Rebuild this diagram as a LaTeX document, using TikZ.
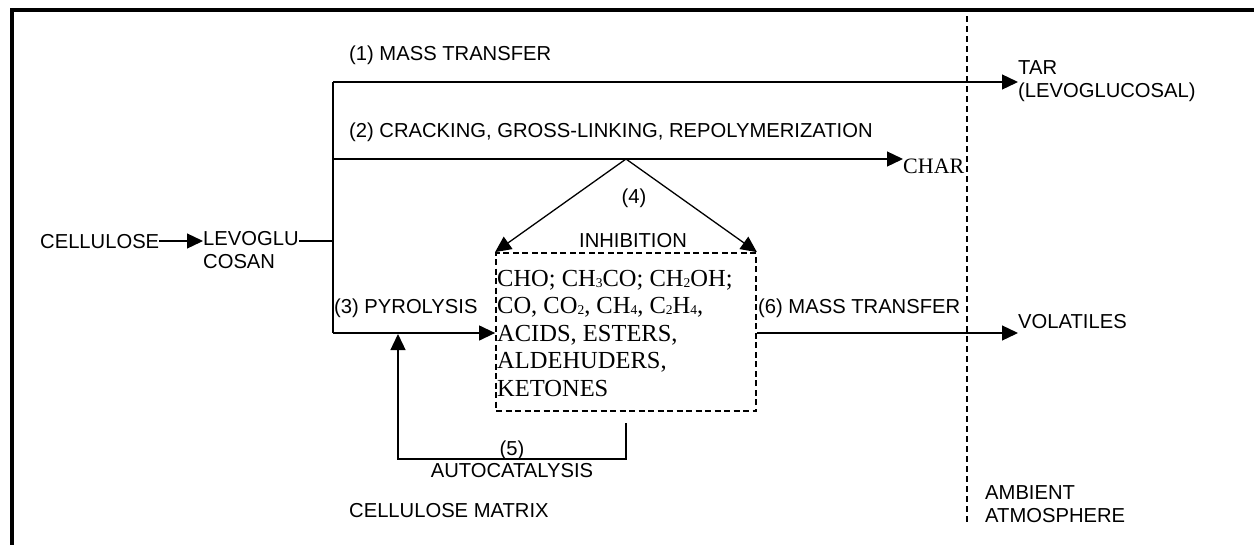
\documentclass[tikz,border=0pt]{standalone}
\usepackage{fontspec}
\setmainfont{Liberation Serif}
\setsansfont{Liberation Sans}
\usetikzlibrary{arrows.meta}
\newcommand{\sbs}[1]{\raisebox{-1pt}{\fontsize{13.5}{13.5}\selectfont #1}}
\begin{document}
\begin{tikzpicture}[x=1pt,y=-1pt,
  lbl/.style={font=\sffamily\fontsize{20.2}{23}\selectfont, inner sep=0pt, align=left},
  ser/.style={font=\rmfamily\fontsize{24.5}{27.5}\selectfont, inner sep=0pt},
  charf/.style={font=\rmfamily\fontsize{22}{24}\selectfont, inner sep=0pt},
  conn/.style={line width=1.3pt},
  arr/.style={conn, -{Triangle[length=16pt,width=15pt]}},
  frame/.style={line width=3.4pt},
  boundary/.style={line width=1.3pt, dash pattern=on 6pt off 4pt},
  dbox/.style={draw, line width=1.8pt, dash pattern=on 6pt off 3.5pt, minimum width=260pt, minimum height=158pt, inner sep=0pt}]
\useasboundingbox (0,0) rectangle (1254,544);
\clip (0,0) rectangle (1254,544);
% frame
\draw[frame] (12,600) -- (12,10) -- (1300,10);
% boundary between matrix and atmosphere
\draw[boundary] (967,16) -- (967,522);
% nodes
\node[lbl, anchor=base west] (cell) at (40,248) {CELLULOSE};
\node[lbl, anchor=north west] (levo) at (203,231) {LEVOGLU\\COSAN};
\node[lbl, anchor=base west] (l1) at (349,60) {(1) MASS TRANSFER};
\node[lbl, anchor=base west] (l2) at (349,137) {(2) CRACKING, GROSS-LINKING, REPOLYMERIZATION};
\node[lbl, anchor=base west] (l3) at (334,313) {(3) PYROLYSIS};
\node[lbl, anchor=base west] (l6) at (758,313) {(6) MASS TRANSFER};
\node[lbl, anchor=base] (l4) at (634,203) {(4)};
\node[lbl, anchor=base] (inh) at (633,247) {INHIBITION};
\node[lbl, anchor=base] (l5) at (512,455) {(5)};
\node[lbl, anchor=base] (auto) at (512,477) {AUTOCATALYSIS};
\node[lbl, anchor=base west] (matrix) at (349,517) {CELLULOSE MATRIX};
\node[lbl, anchor=north west] (tar) at (1018,60) {TAR\\(LEVOGLUCOSAL)};
\node[lbl, anchor=base west] (vol) at (1018,328) {VOLATILES};
\node[lbl, anchor=north west] (amb) at (985,485) {AMBIENT\\ATMOSPHERE};
\node[charf, anchor=base west] (char) at (903,173) {CHAR};
% dashed box of products
\node[dbox] (box) at (626,332) {};
\node[ser, anchor=base west] (s1) at (497,286) {CHO; CH\sbs{3}CO; CH\sbs{2}OH;};
\node[ser, anchor=base west] (s2) at (497,313.5) {CO, CO\sbs{2}, CH\sbs{4}, C\sbs{2}H\sbs{4},};
\node[ser, anchor=base west] (s3) at (497,341) {ACIDS, ESTERS,};
\node[ser, anchor=base west] (s4) at (497,368.5) {ALDEHUDERS,};
\node[ser, anchor=base west] (s5) at (497,396) {KETONES};
% junction coordinates
\coordinate (ttop) at (333,82);
\coordinate (tmid) at (333,159);
\coordinate (tbot) at (333,333);
\coordinate (apex) at (626,159);
\coordinate (ac0) at (626,423);
\coordinate (ac1) at (626,459);
\coordinate (ac2) at (398,459);
\coordinate (ac3) at (398,334);
% connectors
\draw[arr] (cell.east |- 0,241) -- (levo.west |- 0,241);
\draw[conn] (levo.east |- 0,241) -- (333,241);
\draw[conn] (ttop) -- (tbot);
\draw[arr] (ttop) -- (ttop -| tar.west);
\draw[arr] (tmid) -- (tmid -| char.west);
\draw[arr] (tbot) -- (tbot -| box.west);
\draw[arr] (apex) -- (box.north west);
\draw[arr] (apex) -- (box.north east);
\draw[arr] (box.east |- tbot) -- (tbot -| tar.west);
\draw[arr] (ac0) -- (ac1) -- (ac2) -- (ac3);
\end{tikzpicture}
\end{document}
